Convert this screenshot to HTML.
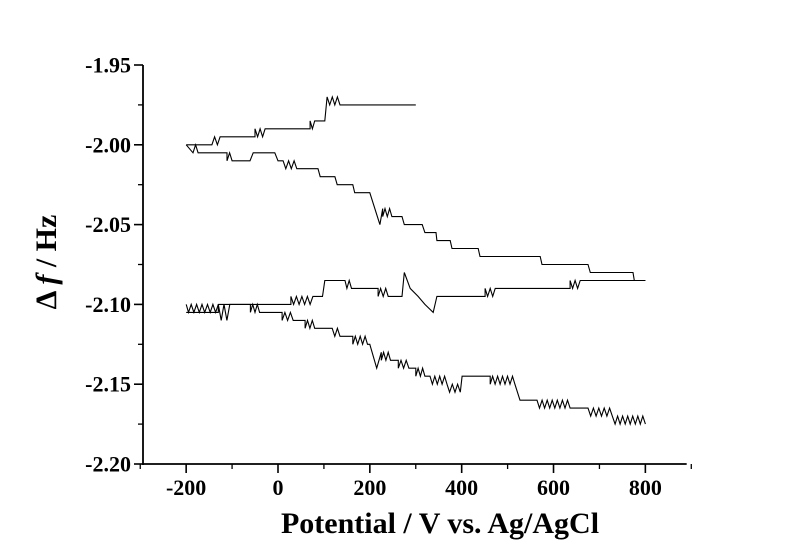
<!DOCTYPE html>
<html><head><meta charset="utf-8"><style>
body{margin:0;background:#fff}
svg{display:block}
text{font-family:"Liberation Serif",serif;font-weight:bold;fill:#000}
</style></head><body>
<svg id="chart" width="800" height="557" viewBox="0 0 800 557" xmlns="http://www.w3.org/2000/svg">
<g id="axes"></g>
<g id="series"></g>
<text x="440" y="533" text-anchor="middle" font-size="30">Potential / V vs. Ag/AgCl</text>
<text transform="translate(56,262) rotate(-90)" text-anchor="middle" font-size="30">Δ <tspan font-style="italic">f</tspan> / Hz</text>
</svg>
<script>
const xTicks=[-200,0,200,400,600,800];
const xMinor=[-300,-100,100,300,500,700,900];
const yTicks=[-1.95,-2.00,-2.05,-2.10,-2.15,-2.20];
const yTickLabels=["-1.95","-2.00","-2.05","-2.10","-2.15","-2.20"];
const yMinor=[-1.975,-2.025,-2.075,-2.125,-2.175];
// points [potential, df]; zigzag entries ['z', v0, v1, fa, fb]
const seriesA=[[-200,-2.000],['z',-144,-126,-2.000,-1.995],[-50,-1.995],['z',-50,-28,-1.995,-1.990],[70,-1.990],['z',70,80,-1.990,-1.985],[102,-1.985],[107,-1.970],['z',107,135,-1.970,-1.975],[300,-1.975]];
const seriesB=[[-200,-2.000],['z',-185,-174,-2.000,-2.005],[-111,-2.005],['z',-111,-100,-2.005,-2.010],[-61,-2.010],[-54,-2.005],[-7,-2.005],[0,-2.010],['z',11,41,-2.010,-2.015],[87,-2.015],[92,-2.020],[124,-2.020],[129,-2.025],[163,-2.025],[167,-2.030],[200,-2.030],[222,-2.050],[228,-2.040],['z',228,248,-2.040,-2.045],[270,-2.045],[275,-2.050],[314,-2.050],[320,-2.055],[344,-2.055],[346,-2.060],[375,-2.060],[379,-2.065],[436,-2.065],[440,-2.070],[571,-2.070],[575,-2.075],[675,-2.075],[680,-2.080],[773,-2.080],[776,-2.085],[800,-2.085]];
const seriesC=[[-200,-2.100],['z',-195,-130,-2.105,-2.100],[28,-2.100],['z',28,76,-2.100,-2.095],[97,-2.095],[102,-2.085],[146,-2.085],['z',150,160,-2.085,-2.090],[218,-2.090],['z',218,240,-2.090,-2.095],[270,-2.095],[275,-2.080],[288,-2.090],[305,-2.095],[320,-2.100],[338,-2.105],[346,-2.095],[451,-2.095],['z',451,473,-2.095,-2.090],[636,-2.090],['z',636,658,-2.090,-2.085],[800,-2.085]];
const seriesD=[[-200,-2.105],[-130,-2.105],['z',-130,-105,-2.110,-2.100],[-60,-2.100],['z',-60,-40,-2.100,-2.105],[9,-2.105],['z',9,33,-2.105,-2.110],[59,-2.110],['z',59,80,-2.110,-2.115],[118,-2.115],['z',118,135,-2.115,-2.120],[163,-2.120],['z',163,195,-2.120,-2.125],[200,-2.125],[215,-2.140],[225,-2.130],['z',225,245,-2.130,-2.135],[262,-2.135],['z',262,285,-2.135,-2.140],[300,-2.140],['z',300,320,-2.140,-2.145],[331,-2.145],['z',331,368,-2.145,-2.150],['z',368,397,-2.150,-2.155],[401,-2.145],[462,-2.145],['z',462,516,-2.145,-2.150],[527,-2.160],['z',564,636,-2.160,-2.165],[675,-2.165],['z',675,728,-2.165,-2.170],['z',734,800,-2.170,-2.175]];
const allSeries=[seriesA,seriesB,seriesC,seriesD];
const seriesNames=['series-1','series-2','series-3','series-4'];

const NS="http://www.w3.org/2000/svg";
const X=v=>278+v*0.4592;
const Y=f=>65+(-1.95-f)/0.05*79.8;
const axes=document.getElementById('axes');
function mk(tag,attrs,parent){const e=document.createElementNS(NS,tag);for(const k in attrs)e.setAttribute(k,attrs[k]);parent.appendChild(e);return e;}
let l=mk('line',{x1:143,y1:Y(-1.95),x2:143,y2:Y(-2.20)+1,stroke:'#000','stroke-width':1.8},axes);


l=mk('line',{x1:143,y1:Y(-2.20),x2:X(890),y2:Y(-2.20),stroke:'#000','stroke-width':1.8},axes);


yTicks.forEach((t,i)=>{
 const tk=mk('line',{x1:134,y1:Y(t),x2:143,y2:Y(t),stroke:'#000','stroke-width':1.6},axes);
 
 
 const tx=mk('text',{x:131,y:Y(t)+7.5,'text-anchor':'end','font-size':22},axes);
 tx.textContent=yTickLabels[i];
 
 
});
yMinor.forEach(t=>{
 const tk=mk('line',{x1:138,y1:Y(t),x2:143,y2:Y(t),stroke:'#000','stroke-width':1.3},axes);
 
 
});
xTicks.forEach(t=>{
 const tk=mk('line',{x1:X(t),y1:Y(-2.20),x2:X(t),y2:Y(-2.20)+9,stroke:'#000','stroke-width':1.6},axes);
 
 
 const tx=mk('text',{x:X(t),y:Y(-2.20)+31,'text-anchor':'middle','font-size':22},axes);
 tx.textContent=String(t);
 
 
});
xMinor.forEach(t=>{
 const tk=mk('line',{x1:X(t),y1:Y(-2.20),x2:X(t),y2:Y(-2.20)+5,stroke:'#000','stroke-width':1.3},axes);
 
 
});
const sg=document.getElementById('series');
allSeries.forEach((s,si)=>{
 const pts=[];
 s.forEach(p=>{
  if(p[0]==='z'){
   const x0=X(p[1]),x1=X(p[2]);
   const n=Math.max(2,Math.round((x1-x0)/2.6));
   for(let k=0;k<=n;k++){
     const f=((n-k)%2===0)?p[4]:p[3];
     pts.push([x0+(x1-x0)*k/n,Y(f)]);
   }
  } else pts.push([X(p[0]),Y(p[1])]);
 });
 const pl=mk('polyline',{points:pts.map(q=>q[0].toFixed(1)+','+q[1].toFixed(1)).join(' '),fill:'none',stroke:'#000','stroke-width':1.1},sg);
 
 
});
</script>
</body></html>
